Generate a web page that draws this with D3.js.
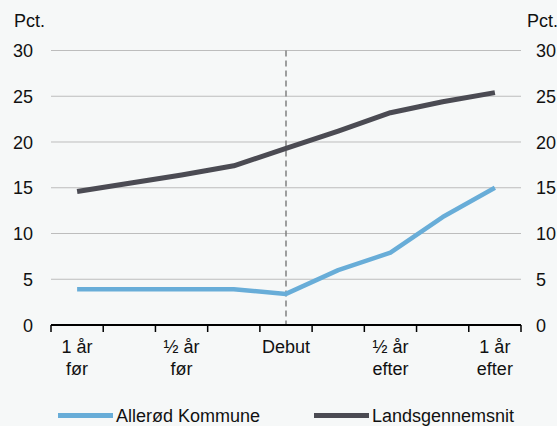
<!DOCTYPE html>
<html>
<head>
<meta charset="utf-8">
<script src="https://cdn.jsdelivr.net/npm/d3@7"></script>
<style>
  html, body { margin: 0; padding: 0; background: #f6f8f8; }
  svg { display: block; font-family: "Liberation Sans", Arial, sans-serif; }
</style>
</head>
<body>
<svg id="chart" width="557" height="426"></svg>
<script>
// Periods around debut (9 steps), labels on every other one
const periods = ['p1', 'p2', 'p3', 'p4', 'p5', 'p6', 'p7', 'p8', 'p9'];
const periodLabels = { p1: ['1 år', 'før'], p3: ['½ år', 'før'], p5: ['Debut'], p7: ['½ år', 'efter'], p9: ['1 år', 'efter'] };
const alleroed = [3.9, 3.9, 3.9, 3.9, 3.4, 6.0, 7.9, 11.8, 15.0];
const lands = [14.6, 15.5, 16.4, 17.4, 19.3, 21.2, 23.2, 24.4, 25.4];
const yTicks = [0, 5, 10, 15, 20, 25, 30];
const debut = 'p5';

(function () {
  const svg = d3.select('#chart');
  const plotLeft = 51, plotRight = 521, plotTop = 50.5, plotBottom = 325;
  const fontSize = 18;

  const x = d3.scaleBand().domain(periods).range([plotLeft, plotRight]);
  const y = d3.scaleLinear().domain([0, 30]).range([plotBottom, plotTop]);
  const cx = p => x(p) + x.bandwidth() / 2;

  const color = { alleroed: '#68add8', lands: '#4b4b53' };

  // Gridlines
  svg.append('g').selectAll('line').data(yTicks.filter(d => d > 0)).join('line')
    .attr('x1', plotLeft).attr('x2', plotRight)
    .attr('y1', d => y(d)).attr('y2', d => y(d))
    .attr('stroke', '#bdbdbd').attr('stroke-width', 1);

  // Y tick labels on both sides
  const yl = svg.append('g').attr('font-size', fontSize).attr('fill', '#111');
  yl.selectAll('text.l').data(yTicks).join('text').attr('class', 'l')
    .attr('x', 33).attr('y', d => y(d) + 6.5).attr('text-anchor', 'end').text(d => d);
  yl.selectAll('text.r').data(yTicks).join('text').attr('class', 'r')
    .attr('x', 536).attr('y', d => y(d) + 6.5).attr('text-anchor', 'start').text(d => d);
  yl.append('text').attr('x', 14).attr('y', 26.5).text('Pct.');
  yl.append('text').attr('x', 527).attr('y', 26.5).text('Pct.');

  // Debut marker
  svg.append('line')
    .attr('x1', cx(debut)).attr('x2', cx(debut))
    .attr('y1', plotTop).attr('y2', plotBottom)
    .attr('stroke', '#808080').attr('stroke-width', 1.5).attr('stroke-dasharray', '6,4');

  // X axis
  const xAxis = svg.append('g').attr('transform', 'translate(0,' + plotBottom + ')');
  xAxis.append('line').attr('x1', plotLeft).attr('x2', plotRight).attr('stroke', '#000').attr('stroke-width', 2);
  const tickPos = periods.map(p => x(p)).concat([plotRight]);
  xAxis.selectAll('line.tick').data(tickPos).join('line').attr('class', 'tick')
    .attr('x1', d => d).attr('x2', d => d).attr('y1', 0).attr('y2', 7)
    .attr('stroke', '#000').attr('stroke-width', 1.5);
  xAxis.selectAll('text').data(Object.keys(periodLabels)).join('text')
    .attr('font-size', fontSize).attr('fill', '#111').attr('text-anchor', 'middle')
    .each(function (p) {
      const t = d3.select(this);
      periodLabels[p].forEach((line, i) => {
        t.append('tspan').attr('x', cx(p)).attr('y', 28 + i * 22).text(line);
      });
    });

  // Lines
  const line = d3.line().x((d, i) => cx(periods[i])).y(d => y(d));
  svg.append('path').attr('d', line(alleroed))
    .attr('fill', 'none').attr('stroke', color.alleroed).attr('stroke-width', 4.5).attr('stroke-linejoin', 'round');
  svg.append('path').attr('d', line(lands))
    .attr('fill', 'none').attr('stroke', color.lands).attr('stroke-width', 5).attr('stroke-linejoin', 'round');

  // Legend
  const legend = [
    { label: 'Allerød Kommune', color: color.alleroed, x: 58 },
    { label: 'Landsgennemsnit', color: color.lands, x: 314 }
  ];
  legend.forEach(e => {
    const g = svg.append('g').attr('transform', 'translate(' + e.x + ',415.5)');
    g.append('line').attr('x1', 0).attr('x2', 55).attr('stroke', e.color).attr('stroke-width', 5);
    g.append('text').attr('x', 58).attr('y', 6.5).attr('font-size', fontSize).attr('fill', '#111').text(e.label);
  });
})();
</script>
</body>
</html>
